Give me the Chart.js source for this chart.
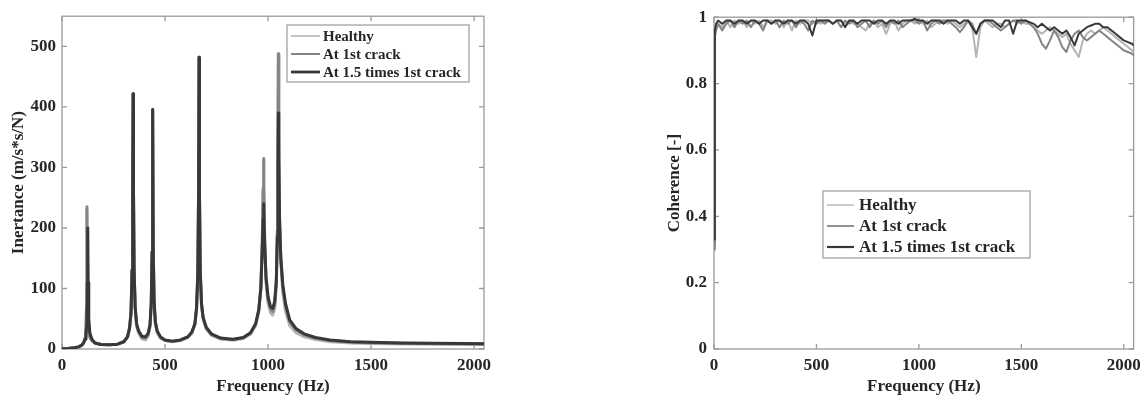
<!DOCTYPE html>
<html lang="en">
<head>
<meta charset="UTF-8">
<title>Inertance and coherence</title>
<script src="https://cdn.jsdelivr.net/npm/chart.js"></script>
<style>
    body {
        margin: 0;
        background: #ffffff;
        overflow: hidden;
        width: 1147px;
        height: 396px;
        position: relative;
    }

    .panel {
        position: absolute;
        top: 0;
    }

    #leftPanel { left: 0; }
    #rightPanel { left: 654px; }
</style>
</head>
<body>
<div class="panel" id="leftPanel"><canvas id="inertanceChart" width="500" height="400"></canvas></div>
<div class="panel" id="rightPanel"><canvas id="coherenceChart" width="493" height="400"></canvas></div>

<script>
// series names and colours (light -> dark)
const seriesNames = ['Healthy', 'At 1st crack', 'At 1.5 times 1st crack'];
const lineColors = ['#b4b4b4', '#858585', '#383838'];

// left panel: inertance FRF
const freqF = [
    0, 30, 60, 80, 95, 105, 112, 116, 119, 121,
    123, 125, 127, 130, 135, 145, 160, 190, 230, 270,
    300, 318, 328, 335, 340, 343, 345, 347, 350, 355,
    362, 372, 388, 405, 418, 427, 433, 437, 440, 443,
    447, 453, 462, 478, 500, 535, 575, 610, 630, 645,
    653, 659, 663, 665, 667, 671, 677, 685, 700, 725,
    770, 830, 880, 915, 940, 955, 965, 972, 976, 978,
    980, 984, 990, 1000, 1012, 1022, 1032, 1040, 1045, 1048,
    1050, 1052, 1056, 1062, 1072, 1085, 1105, 1135, 1175, 1230,
    1300, 1400, 1500, 1650, 1800, 1950, 2048
];
const inertHealthy = [
    0.3, 0.8, 2, 3.5, 6, 11, 18, 30, 70, 230,
    100, 55, 38, 28, 20, 14, 10, 7.5, 7, 8,
    12, 20, 35, 60, 130, 260, 420, 260, 130, 68,
    38, 26, 17, 15, 21, 36, 70, 160, 394, 160,
    76, 42, 27, 18, 14, 12, 14, 19, 26, 40,
    66, 121, 263, 480, 263, 126, 72, 49, 33, 22.5,
    16.5, 14.5, 17.5, 25, 39, 62, 100, 177, 262, 312,
    270, 170, 110, 76, 60, 56, 66, 104, 190, 330,
    485, 345, 210, 142, 92, 62, 39, 27, 20, 15.5,
    12, 10, 9.2, 8.4, 8, 7.6, 7.3
];
const inertCrack1 = [
    0.3, 0.8, 2, 3.5, 6, 11, 18, 30, 70, 235,
    100, 55, 38, 28, 20, 14, 10, 7.5, 7, 8,
    12, 20, 35, 60, 130, 260, 422, 260, 130, 70,
    40, 28, 19, 18, 24, 38, 72, 160, 396, 160,
    78, 44, 29, 19, 14.5, 12.5, 14.5, 19.5, 27, 41,
    67, 123, 265, 482, 265, 128, 74, 51, 35, 24,
    17.5, 15.5, 18.5, 26, 41, 64, 102, 180, 265, 315,
    275, 175, 115, 82, 66, 62, 72, 110, 195, 335,
    488, 350, 215, 148, 100, 70, 45, 32, 23.5, 18,
    14, 11.5, 10.5, 9.6, 9.1, 8.7, 8.4
];
const inertCrack15 = [
    0.3, 0.8, 2, 3.5, 6, 10, 16, 24, 36, 55,
    110, 200, 110, 50, 27, 16, 10, 7.5, 7, 8,
    12, 20, 35, 60, 130, 260, 422, 260, 130, 70,
    42, 30, 21, 20, 26, 40, 75, 160, 396, 160,
    80, 45, 30, 20, 15, 13, 15, 20, 28, 42,
    68, 125, 265, 482, 265, 130, 75, 52, 36, 25,
    18, 16, 19, 27, 42, 65, 100, 165, 215, 240,
    228, 170, 120, 86, 70, 67, 78, 112, 185, 295,
    390, 310, 210, 150, 105, 75, 48, 34, 25, 19,
    15, 12, 11, 10, 9.5, 9, 8.7
];

// right panel: coherence
const freqC = [
    0, 4, 10, 20, 40, 60, 80, 100, 120, 140,
    160, 180, 200, 220, 240, 260, 280, 300, 320, 340,
    360, 380, 400, 420, 440, 460, 480, 500, 520, 540,
    560, 580, 600, 620, 640, 660, 680, 700, 720, 740,
    760, 780, 800, 820, 840, 860, 880, 900, 920, 940,
    960, 980, 1000, 1020, 1040, 1060, 1080, 1100, 1120, 1140,
    1160, 1180, 1200, 1220, 1240, 1260, 1280, 1300, 1320, 1340,
    1360, 1380, 1400, 1420, 1440, 1460, 1480, 1500, 1520, 1540,
    1560, 1580, 1600, 1620, 1640, 1660, 1680, 1700, 1720, 1740,
    1760, 1780, 1800, 1820, 1840, 1860, 1880, 1900, 1920, 1940,
    1960, 1980, 2000, 2020, 2040, 2048
];
const cohHealthy = [
    0.31, 0.95, 0.97, 0.98, 0.97, 0.99, 0.97, 0.99, 0.98, 0.99,
    0.97, 0.99, 0.98, 0.99, 0.97, 0.99, 0.99, 0.98, 0.99, 0.97,
    0.99, 0.96, 0.99, 0.98, 0.99, 0.99, 0.98, 0.99, 0.98, 0.99,
    0.99, 0.98, 0.99, 0.99, 0.98, 0.99, 0.98, 0.98, 0.97, 0.96,
    0.98, 0.99, 0.97, 0.98, 0.95, 0.98, 0.99, 0.96, 0.98, 0.99,
    0.99, 0.98, 0.99, 0.98, 0.99, 0.97, 0.98, 0.99, 0.99, 0.98,
    0.99, 0.98, 0.97, 0.98, 0.99, 0.97, 0.88, 0.97, 0.99, 0.98,
    0.97, 0.98, 0.98, 0.97, 0.98, 0.99, 0.98, 0.99, 0.98, 0.98,
    0.97, 0.96, 0.95, 0.96, 0.97, 0.96, 0.95, 0.94, 0.95, 0.92,
    0.90, 0.88, 0.93, 0.95, 0.96, 0.95, 0.96, 0.97, 0.96, 0.95,
    0.94, 0.93, 0.92, 0.91, 0.90, 0.895
];
const cohCrack1 = [
    0.30, 0.94, 0.96, 0.98, 0.96, 0.98, 0.99, 0.97, 0.99, 0.98,
    0.99, 0.97, 0.99, 0.98, 0.96, 0.99, 0.98, 0.99, 0.97, 0.99,
    0.98, 0.99, 0.97, 0.99, 0.98, 0.96, 0.99, 0.98, 0.99, 0.98,
    0.99, 0.98, 0.99, 0.97, 0.99, 0.98, 0.99, 0.97, 0.98, 0.99,
    0.97, 0.99, 0.98, 0.99, 0.97, 0.99, 0.98, 0.99, 0.97, 0.98,
    0.99, 0.99, 0.98, 0.99, 0.96, 0.98, 0.99, 0.98, 0.99, 0.99,
    0.98, 0.97, 0.955, 0.97, 0.99, 0.98, 0.95, 0.98, 0.99, 0.99,
    0.98, 0.97, 0.96, 0.97, 0.98, 0.99, 0.99, 0.98, 0.99, 0.98,
    0.97, 0.95, 0.92, 0.905, 0.93, 0.96, 0.94, 0.91, 0.895, 0.93,
    0.95, 0.96, 0.94, 0.93, 0.94, 0.95, 0.96, 0.95, 0.94, 0.93,
    0.92, 0.91, 0.90, 0.895, 0.89, 0.885
];
const cohCrack15 = [
    0.33, 0.96, 0.98, 0.99, 0.98, 0.99, 0.99, 0.98, 0.99, 0.99,
    0.98, 0.99, 0.99, 0.98, 0.99, 0.99, 0.98, 0.99, 0.99, 0.98,
    0.99, 0.99, 0.98, 0.99, 0.99, 0.98, 0.945, 0.99, 0.99, 0.99,
    0.99, 0.98, 0.99, 0.99, 0.97, 0.99, 0.99, 0.98, 0.99, 0.99,
    0.99, 0.98, 0.99, 0.99, 0.98, 0.99, 0.99, 0.98, 0.99, 0.99,
    0.99, 0.995, 0.99, 0.99, 0.98, 0.99, 0.99, 0.99, 0.98, 0.99,
    0.99, 0.99, 0.98, 0.99, 0.99, 0.97, 0.95, 0.98, 0.99, 0.99,
    0.99, 0.98, 0.97, 0.99, 0.99, 0.95, 0.99, 0.99, 0.99, 0.985,
    0.98, 0.97, 0.98, 0.97, 0.96, 0.97, 0.96, 0.95, 0.96, 0.94,
    0.915, 0.95, 0.96, 0.97, 0.975, 0.98, 0.98, 0.97, 0.97, 0.96,
    0.95, 0.94, 0.93, 0.925, 0.92, 0.915
];

// tick values
const freqTicks = [0, 500, 1000, 1500, 2000];
const inertTicks = [0, 100, 200, 300, 400, 500];
const cohTicks = [0, 0.2, 0.4, 0.6, 0.8, 1];

const serif = '"Liberation Serif", "Times New Roman", serif';
const textColor = '#262626';
const frameColor = '#9a9a9a';

function toPoints(xs, ys) {
    return xs.map((x, i) => ({ x: x, y: ys[i] }));
}

// darkest series drawn on top
function makeDatasets(xs, seriesList, width) {
    return seriesList.map((ys, i) => ({
        label: seriesNames[i],
        data: toPoints(xs, ys),
        borderColor: lineColors[i],
        borderWidth: width,
        borderJoinStyle: 'round',
        borderCapStyle: 'round',
        pointRadius: 0,
        tension: 0,
        fill: false,
        order: seriesList.length - 1 - i
    }));
}

// box around plot with inward ticks (matlab look)
const frameBox = {
    id: 'frameBox',
    beforeDatasetsDraw(chart) {
        const { ctx, chartArea: a, scales } = chart;
        ctx.save();
        ctx.strokeStyle = frameColor;
        ctx.lineWidth = 1.3;
        ctx.strokeRect(a.left, a.top, a.right - a.left, a.bottom - a.top);
        ctx.beginPath();
        scales.x.ticks.forEach(t => {
            const px = scales.x.getPixelForValue(t.value);
            ctx.moveTo(px, a.bottom); ctx.lineTo(px, a.bottom - 5);
            ctx.moveTo(px, a.top); ctx.lineTo(px, a.top + 5);
        });
        scales.y.ticks.forEach(t => {
            const py = scales.y.getPixelForValue(t.value);
            ctx.moveTo(a.left, py); ctx.lineTo(a.left + 5, py);
            ctx.moveTo(a.right, py); ctx.lineTo(a.right - 5, py);
        });
        ctx.stroke();
        ctx.restore();
    }
};

// boxed legend, placed like the original
const boxLegend = {
    id: 'boxLegend',
    afterDatasetsDraw(chart, args, o) {
        const ctx = chart.ctx;
        ctx.save();
        ctx.fillStyle = '#ffffff';
        ctx.fillRect(o.x, o.y, o.w, o.h);
        ctx.strokeStyle = frameColor;
        ctx.lineWidth = 1.2;
        ctx.strokeRect(o.x, o.y, o.w, o.h);
        ctx.font = 'bold ' + o.size + 'px ' + serif;
        ctx.textBaseline = 'middle';
        chart.data.datasets.forEach((ds, i) => {
            const cy = o.y + o.first + i * o.row;
            ctx.strokeStyle = ds.borderColor;
            ctx.lineWidth = o.lw[i];
            ctx.beginPath();
            ctx.moveTo(o.x + 4, cy);
            ctx.lineTo(o.x + 4 + o.len, cy);
            ctx.stroke();
            ctx.fillStyle = textColor;
            ctx.fillText(ds.label, o.x + o.textX, cy + 1);
        });
        ctx.restore();
    }
};

function axisTitle(text, pad) {
    return { display: true, text: text, color: textColor, padding: pad,
             font: { family: serif, size: 17, weight: 'bold' } };
}

function tickFont() {
    return { family: serif, size: 17, weight: 'bold' };
}

function makeOptions(yMin, yMax, yTicks, yTitle, yWidth, yTitlePad, yTickPad, pad, legend) {
    return {
        responsive: false,
        animation: false,
        layout: { padding: pad },
        plugins: {
            legend: { display: false },
            tooltip: { enabled: false },
            boxLegend: legend
        },
        scales: {
            x: {
                type: 'linear',
                min: 0,
                max: 2048,
                grid: { display: false, drawTicks: false },
                border: { display: false },
                afterBuildTicks: s => { s.ticks = freqTicks.map(v => ({ value: v })); },
                afterFit: s => { s.height = 51; },
                ticks: { color: textColor, font: tickFont(), padding: 6, maxRotation: 0,
                         callback: v => String(v) },
                title: axisTitle('Frequency (Hz)', { top: 0, bottom: 3 })
            },
            y: {
                type: 'linear',
                min: yMin,
                max: yMax,
                grid: { display: false, drawTicks: false },
                border: { display: false },
                afterBuildTicks: s => { s.ticks = yTicks.map(v => ({ value: v })); },
                afterFit: s => { s.width = yWidth; },
                ticks: { color: textColor, font: tickFont(), padding: yTickPad,
                         callback: v => String(v) },
                title: axisTitle(yTitle, { top: yTitlePad, bottom: 0 })
            }
        }
    };
}

new Chart(document.getElementById('inertanceChart'), {
    type: 'line',
    data: { datasets: makeDatasets(freqF, [inertHealthy, inertCrack1, inertCrack15], 3) },
    options: makeOptions(0, 550, inertTicks, 'Inertance (m/s*s/N)', 62, 8, 6,
        { top: 12, right: 16, left: 0, bottom: 0 },
        { x: 287, y: 25, w: 182, h: 57, first: 11, row: 18, len: 29, textX: 36, size: 15,
          lw: [1.6, 2, 2.8] }),
    plugins: [frameBox, boxLegend]
});

new Chart(document.getElementById('coherenceChart'), {
    type: 'line',
    data: { datasets: makeDatasets(freqC, [cohHealthy, cohCrack1, cohCrack15], 2) },
    options: makeOptions(0, 1, cohTicks, 'Coherence [-]', 60, 10, 7,
        { top: 17, right: 9, left: 0, bottom: 0 },
        { x: 169, y: 191, w: 207, h: 67, first: 14, row: 21, len: 27, textX: 36, size: 17,
          lw: [1.4, 1.8, 2.2] }),
    plugins: [frameBox, boxLegend]
});
</script>
</body>
</html>
